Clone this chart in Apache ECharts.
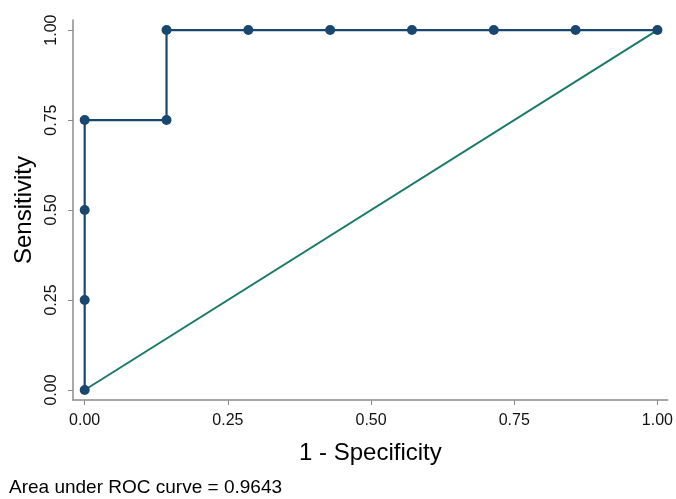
<!DOCTYPE html>
<html><head><meta charset="utf-8">
<script src="https://cdn.jsdelivr.net/npm/echarts@6/dist/echarts.min.js"></script>
<style>html,body{margin:0;padding:0;background:#fff}#c{width:676px;height:499px}</style>
</head><body><div id="c"></div>
<script>
const fpr = [0, 0, 0, 0, 0.1429, 0.1429, 0.2857, 0.4286, 0.5714, 0.7143, 0.8571, 1];
const tpr = [0, 0.25, 0.5, 0.75, 0.75, 1, 1, 1, 1, 1, 1, 1];
const refX = [0, 1];
const refY = [0, 1];
const tickVals = [0, 0.25, 0.5, 0.75, 1];
const tickLabels = ['0.00', '0.25', '0.50', '0.75', '1.00'];
const xTitle = '1 - Specificity';
const yTitle = 'Sensitivity';
const note = 'Area under ROC curve = 0.9643';

const chart = echarts.init(document.getElementById('c'), null, {renderer: 'canvas'});
const font = 'Liberation Sans, Arial, sans-serif';
const fmt = v => { const i = tickVals.findIndex(t => Math.abs(t - v) < 1e-6); return i >= 0 ? tickLabels[i] : ''; };
const axisCommon = {
  type: 'value',
  splitLine: {show: false},
  axisLine: {show: true, onZero: false, lineStyle: {color: '#8c8c8c', width: 1.5}},
  axisTick: {show: true, length: 5, customValues: tickVals, lineStyle: {color: '#8c8c8c', width: 1}},
  nameLocation: 'middle',
  nameTextStyle: {fontFamily: font, fontSize: 24, color: '#000'}
};
chart.setOption({
  animation: false,
  graphic: [{type: 'text', left: 9, top: 478, style: {text: note, fontFamily: font, fontSize: 19, fill: '#000'}}],
  grid: {left: 73, right: 8, top: 20, bottom: 99},
  xAxis: Object.assign({}, axisCommon, {
    min: -0.0204, max: 1.018,
    name: xTitle, nameGap: 41,
    axisLabel: {customValues: tickVals, formatter: fmt, fontFamily: font, fontSize: 16, color: '#111', margin: 13}
  }),
  yAxis: Object.assign({}, axisCommon, {
    min: -0.0278, max: 1.028,
    name: yTitle, nameGap: 34,
    axisLabel: {customValues: tickVals, rotate: 90, formatter: fmt, fontFamily: font, fontSize: 16, color: '#111', margin: 13}
  }),
  series: [
    {type: 'line', data: refX.map((x, i) => [x, refY[i]]), symbol: 'none',
     lineStyle: {color: '#1a7a68', width: 2}, z: 2},
    {type: 'line', data: fpr.map((x, i) => [x, tpr[i]]), symbol: 'circle', symbolSize: 10,
     itemStyle: {color: '#1a476f'}, lineStyle: {color: '#1a476f', width: 2.2}, z: 3}
  ]
});
</script></body></html>
